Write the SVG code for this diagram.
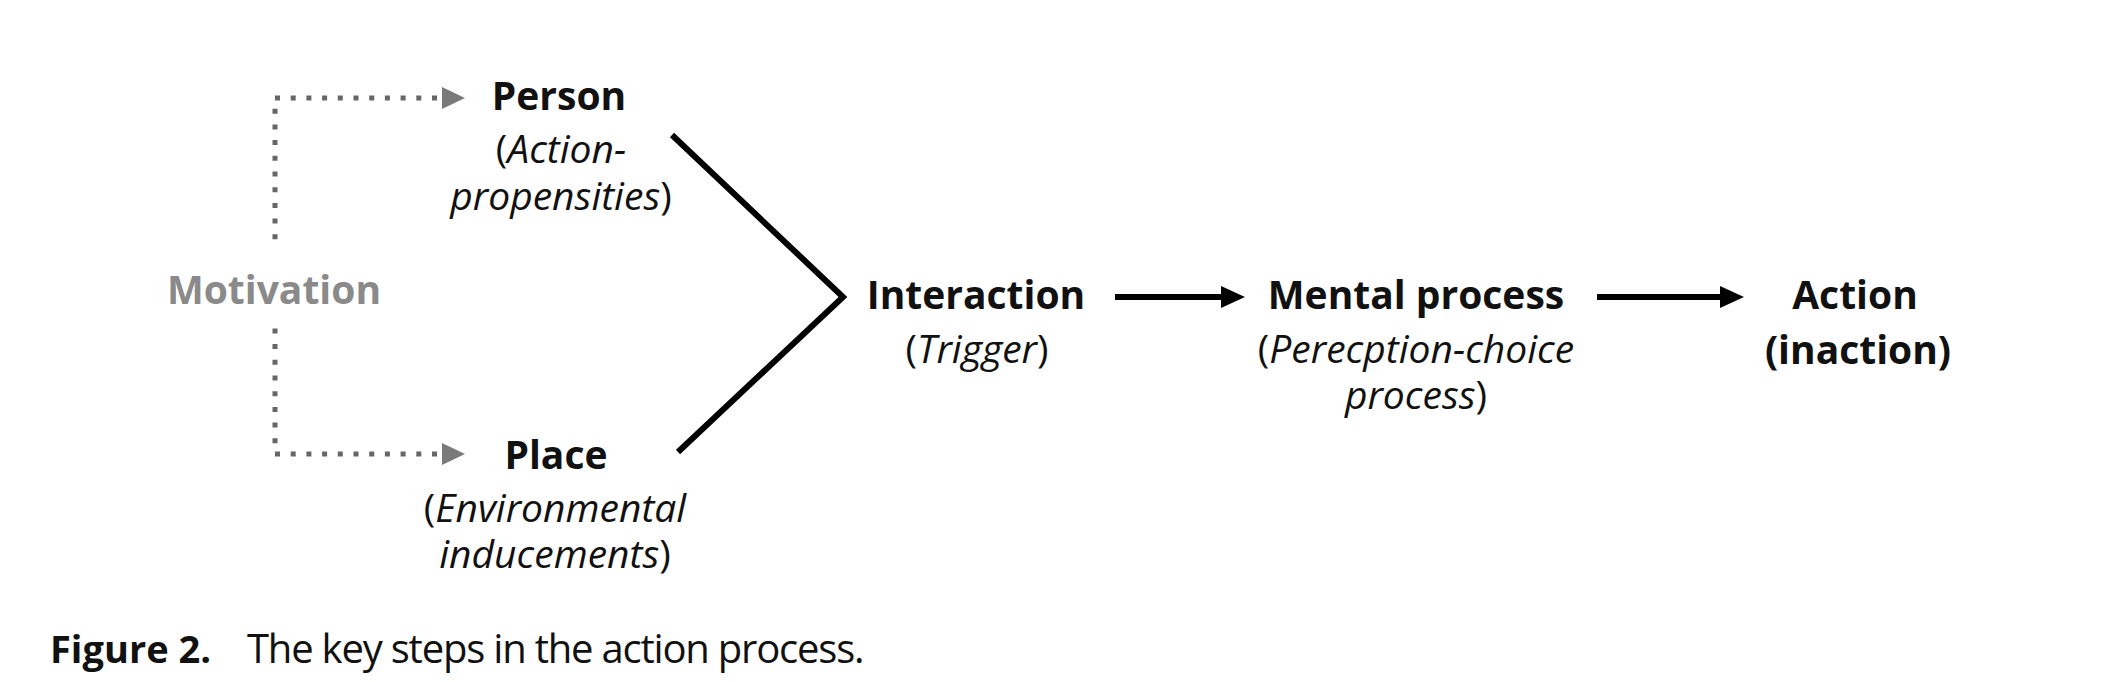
<svg xmlns="http://www.w3.org/2000/svg" width="2109" height="682" viewBox="0 0 2109 682">
<style>
.b{font-family:"Open Sans","Liberation Sans",sans-serif;font-weight:700;font-size:39px;fill:#111;text-anchor:middle}
.i{font-family:"Open Sans","Liberation Sans",sans-serif;font-style:italic;font-size:39px;fill:#111;text-anchor:middle}
.mot{fill:#8a8a8a}
.dot{fill:none;stroke:#666;stroke-width:5;stroke-dasharray:5 10.7}
.solid{fill:none;stroke:#000;stroke-width:6}
.cap{font-family:"Open Sans","Liberation Sans",sans-serif;font-size:40px;fill:#111}
</style>
<defs>
<marker id="ga" markerUnits="userSpaceOnUse" markerWidth="24" markerHeight="22" refX="0" refY="11" orient="auto">
<path d="M0,0 L23,11 L0,22 Z" fill="#7a7a7a"/>
</marker>
<marker id="ba" markerUnits="userSpaceOnUse" markerWidth="26" markerHeight="24" refX="0" refY="12" orient="auto">
<path d="M0,1 L24,12 L0,23 Z" fill="#000"/>
</marker>
</defs>
<rect width="2109" height="682" fill="#fff"/>
<g id="connectors">
<path class="dot" d="M275,239.3 V98 H442" marker-end="url(#ga)"/>
<path class="dot" d="M275,328.4 V454 H442" marker-end="url(#ga)"/>
<polyline class="solid" points="672,135 843,297 678,452" stroke-linejoin="miter"/>
<path class="solid" d="M1115,297 H1221" marker-end="url(#ba)"/>
<path class="solid" d="M1597,297 H1720" marker-end="url(#ba)"/>
</g>
<g id="motivation"><text class="b mot" x="274" y="304">Motivation</text></g>
<g id="person">
<text class="b" x="559" y="110">Person</text>
<text class="i" x="561" y="163"><tspan font-style="normal">(</tspan>Action-</text>
<text class="i" x="561" y="210">propensities<tspan font-style="normal">)</tspan></text>
</g>
<g id="place">
<text class="b" x="556" y="469">Place</text>
<text class="i" x="555" y="522"><tspan font-style="normal">(</tspan>Environmental</text>
<text class="i" x="555" y="568">inducements<tspan font-style="normal">)</tspan></text>
</g>
<g id="interaction">
<text class="b" x="976" y="309">Interaction</text>
<text class="i" x="977" y="363"><tspan font-style="normal">(</tspan>Trigger<tspan font-style="normal">)</tspan></text>
</g>
<g id="mental">
<text class="b" x="1416" y="309">Mental process</text>
<text class="i" x="1416" y="363"><tspan font-style="normal">(</tspan>Perecption-choice</text>
<text class="i" x="1416" y="409">process<tspan font-style="normal">)</tspan></text>
</g>
<g id="action">
<text class="b" x="1855" y="309">Action</text>
<text class="b" x="1858" y="364">(inaction)</text>
</g>
<g id="caption">
<text class="cap" x="50" y="663"><tspan font-weight="700" font-size="38">Figure 2.</tspan><tspan x="247" letter-spacing="-1.2">The key steps in the action process.</tspan></text>
</g>
</svg>
